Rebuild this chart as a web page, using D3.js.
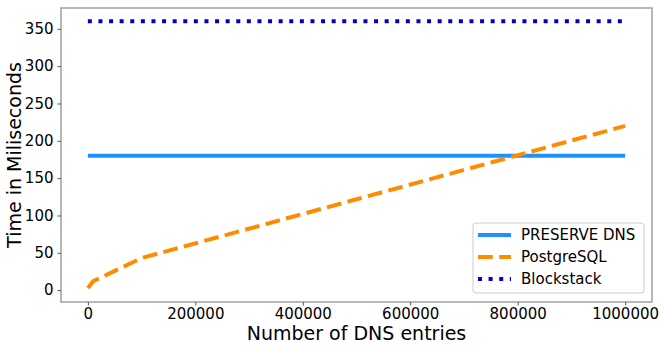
<!DOCTYPE html>
<html>
<head>
<meta charset="utf-8">
<script src="https://cdn.jsdelivr.net/npm/d3@7"></script>
<style>
  body { margin: 0; background: white; }
  text { font-family: "DejaVu Sans", sans-serif; }
</style>
</head>
<body>
<script>
const width = 664;
const height = 349;
const margin = { top: 8, right: 12, bottom: 47, left: 61 };

// data
const entries = [0, 10000, 100000, 1000000];
const preserveDns = [180, 180, 180, 180];
const postgres = [3, 12, 43, 220];
const blockstack = [360, 360, 360, 360];
const xTicks = [0, 200000, 400000, 600000, 800000, 1000000];
const yTicks = [0, 50, 100, 150, 200, 250, 300, 350];

const series = [
  { name: "PRESERVE DNS", values: preserveDns, color: "#1e90ff", dash: null },
  { name: "PostgreSQL", values: postgres, color: "#ff8c00", dash: "14.8,6.4" },
  { name: "Blockstack", values: blockstack, color: "#0000cd", dash: "4,6.6" }
];

const svg = d3.select("body").append("svg")
  .attr("width", width)
  .attr("height", height);

const x = d3.scaleLinear()
  .domain([-50000, 1050000])
  .range([margin.left, width - margin.right]);

const y = d3.scaleLinear()
  .domain([-15.9, 377.9])
  .range([height - margin.bottom, margin.top]);

const line = d3.line()
  .x((d, i) => x(entries[i]))
  .y(d => y(d));

const plot = svg.append("g");

series.forEach(s => {
  plot.append("path")
    .datum(s.values)
    .attr("fill", "none")
    .attr("stroke", s.color)
    .attr("stroke-width", 4)
    .attr("stroke-dasharray", s.dash)
    .attr("d", line);
});

// frame
svg.append("rect")
  .attr("x", margin.left)
  .attr("y", margin.top)
  .attr("width", width - margin.left - margin.right)
  .attr("height", height - margin.top - margin.bottom)
  .attr("fill", "none")
  .attr("stroke", "#a0a0a0")
  .attr("stroke-width", 1.5);

const xAxis = svg.append("g")
  .attr("transform", `translate(0,${height - margin.bottom})`)
  .call(d3.axisBottom(x).tickValues(xTicks).tickFormat(d3.format("d")).tickSize(3.5).tickPadding(3));

const yAxis = svg.append("g")
  .attr("transform", `translate(${margin.left},0)`)
  .call(d3.axisLeft(y).tickValues(yTicks).tickSize(3.5).tickPadding(4));

[xAxis, yAxis].forEach(a => {
  a.select(".domain").remove();
  a.selectAll(".tick line").attr("stroke", "#555");
  a.selectAll(".tick text")
    .attr("font-family", "DejaVu Sans")
    .attr("font-size", 15)
    .attr("fill", "black");
});

svg.append("text")
  .attr("x", (margin.left + width - margin.right) / 2)
  .attr("y", 340)
  .attr("text-anchor", "middle")
  .attr("font-size", 19)
  .text("Number of DNS entries");

svg.append("text")
  .attr("transform", `translate(21,${(margin.top + height - margin.bottom) / 2}) rotate(-90)`)
  .attr("text-anchor", "middle")
  .attr("font-size", 19)
  .text("Time in Miliseconds");

// legend
const legend = svg.append("g").attr("transform", "translate(473,223)");
legend.append("rect")
  .attr("width", 171)
  .attr("height", 70)
  .attr("rx", 3)
  .attr("fill", "white")
  .attr("fill-opacity", 0.8)
  .attr("stroke", "#ccc");

series.forEach((s, i) => {
  const row = legend.append("g").attr("transform", `translate(0,${12 + i * 22})`);
  row.append("line")
    .attr("x1", 5).attr("x2", 38)
    .attr("stroke", s.color)
    .attr("stroke-width", 4)
    .attr("stroke-dasharray", s.dash);
  row.append("text")
    .attr("x", 48)
    .attr("dy", "0.35em")
    .attr("font-size", 15)
    .text(s.name);
});
</script>
</body>
</html>
